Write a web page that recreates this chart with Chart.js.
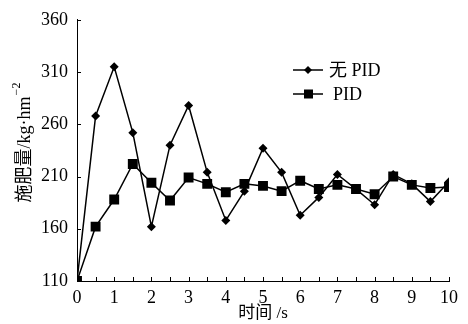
<!DOCTYPE html>
<html>
<head>
<meta charset="utf-8">
<script src="https://cdn.jsdelivr.net/npm/chart.js@4"></script>
<style>
  html, body { margin: 0; padding: 0; background: #fff; }
  #wrap { width: 468px; height: 324px; }
</style>
</head>
<body>
<div id="wrap"><canvas id="chart" width="468" height="324"></canvas></div>
<script>
// time points (s) and fertilising amount (kg/hm2)
const times = [0, 0.5, 1, 1.5, 2, 2.5, 3, 3.5, 4, 4.5, 5, 5.5, 6, 6.5, 7, 7.5, 8, 8.5, 9, 9.5, 10];
const noPid = [110, 268, 315, 252, 162, 240, 278, 214, 168, 196, 237, 214, 173, 190, 212, 198, 183, 212, 203, 186, 205];
const pid   = [110, 162, 188, 222, 204, 187, 209, 203, 195, 203, 201, 196, 206, 198, 202, 198, 193, 210, 202, 199, 200];
const seriesNames = ['无 PID', 'PID'];
const yTicks = [110, 160, 210, 260, 310, 360];

const serif = "'Liberation Serif', 'Noto Sans CJK SC', serif";

// small inward tick marks, legend and y title
const decor = {
    id: 'decor',
    afterDraw(chart) {
        const c = chart.ctx;
        const area = chart.chartArea;
        const xs = chart.scales.x, ys = chart.scales.y;
        c.save();
        c.strokeStyle = '#000';
        c.lineWidth = 1;
        c.beginPath();
        xs.ticks.forEach(t => {
            const px = Math.round(xs.getPixelForValue(t.value)) + 0.5;
            c.moveTo(px, area.bottom);
            c.lineTo(px, area.bottom - 4);
        });
        ys.ticks.forEach(t => {
            const py = Math.round(ys.getPixelForValue(t.value)) + 0.5;
            c.moveTo(area.left, py);
            c.lineTo(area.left + 4, py);
        });
        c.stroke();

        // legend
        c.font = '18px ' + serif;
        c.textBaseline = 'middle';
        c.fillStyle = '#000';
        const rows = [70, 94];
        chart.data.datasets.forEach((ds, i) => {
            const y = rows[i];
            c.beginPath();
            c.lineWidth = 1.5;
            c.moveTo(293, y);
            c.lineTo(323, y);
            c.stroke();
            c.beginPath();
            if (ds.pointStyle === 'rectRot') {
                c.moveTo(308, y - 4); c.lineTo(312, y); c.lineTo(308, y + 4); c.lineTo(304, y);
            } else {
                c.rect(304, y - 4.5, 9, 9);
            }
            c.closePath();
            c.fill();
            c.fillText(ds.label, i === 0 ? 329 : 333, y + 1);
        });

        // y axis title with superscript
        c.translate(25, 143);
        c.rotate(-Math.PI / 2);
        c.textBaseline = 'middle';
        c.font = '18px ' + serif;
        const main = '施肥量/kg·hm';
        const w1 = c.measureText(main).width;
        c.font = '12px ' + serif;
        const sup = '−2';
        const w2 = c.measureText(sup).width;
        const x0 = -(w1 + w2) / 2;
        c.font = '18px ' + serif;
        c.fillText(main, x0, 0);
        c.font = '12px ' + serif;
        c.fillText(sup, x0 + w1 + 1, -8);
        c.restore();
    }
};

new Chart(document.getElementById('chart').getContext('2d'), {
    type: 'line',
    data: {
        datasets: [{
            label: seriesNames[0],
            data: times.map((t, i) => ({ x: t, y: noPid[i] })),
            borderColor: '#000',
            backgroundColor: '#000',
            borderWidth: 1.5,
            pointStyle: 'rectRot',
            pointRadius: 4.5,
            pointBorderWidth: 0,
            tension: 0
        }, {
            label: seriesNames[1],
            data: times.map((t, i) => ({ x: t, y: pid[i] })),
            borderColor: '#000',
            backgroundColor: '#000',
            borderWidth: 1.5,
            pointStyle: 'rect',
            pointRadius: 7,
            pointBorderWidth: 0,
            tension: 0
        }]
    },
    options: {
        responsive: false,
        animation: false,
        layout: { padding: { top: 15, right: 19, left: 0, bottom: 0 } },
        plugins: { legend: { display: false }, tooltip: { enabled: false } },
        scales: {
            x: {
                type: 'linear',
                min: 0,
                max: 10,
                afterFit: s => { s.height = 43; },
                grid: { display: false, drawTicks: false },
                border: { display: true, color: '#000', width: 1 },
                ticks: {
                    stepSize: 0.5,
                    padding: 6,
                    color: '#000',
                    font: { family: serif, size: 18 },
                    maxRotation: 0,
                    autoSkip: false,
                    callback: v => Number.isInteger(v) ? String(v) : ''
                },
                title: {
                    display: true,
                    text: '时间 /s',
                    color: '#000',
                    font: { family: serif, size: 17 },
                    padding: 0
                }
            },
            y: {
                min: 110,
                max: 360,
                afterFit: s => { s.width = 77; },
                afterBuildTicks: s => { s.ticks = yTicks.map(v => ({ value: v })); },
                grid: { display: false, drawTicks: false },
                border: { display: true, color: '#000', width: 1 },
                ticks: {
                    padding: 9,
                    color: '#000',
                    font: { family: serif, size: 18 }
                }
            }
        }
    },
    plugins: [decor]
});
</script>
</body>
</html>
